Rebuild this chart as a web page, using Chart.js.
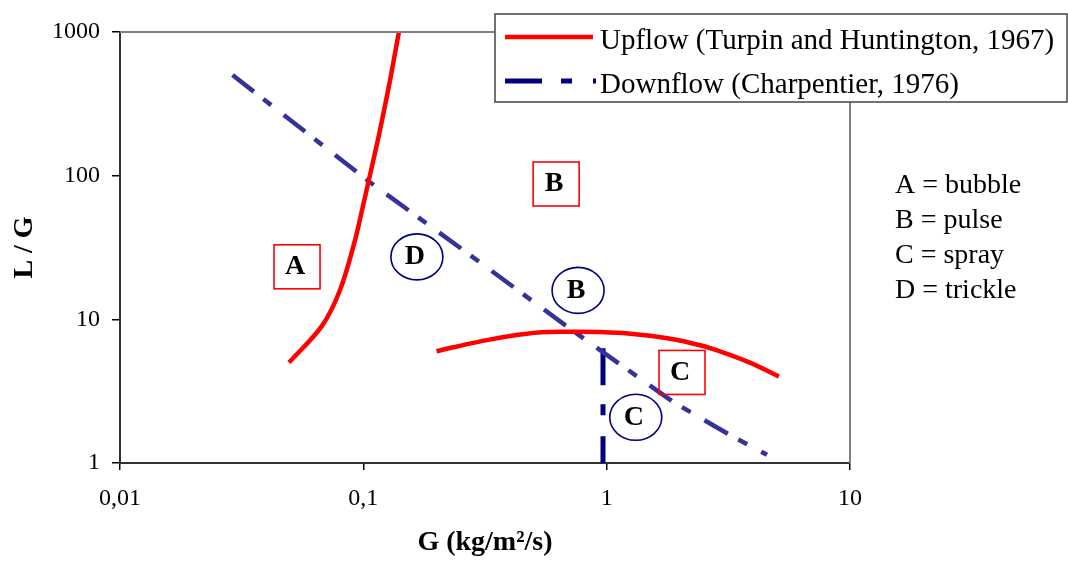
<!DOCTYPE html>
<html>
<head>
<meta charset="utf-8">
<script src="https://cdn.jsdelivr.net/npm/chart.js@4.4.1/dist/chart.umd.min.js"></script>
<style>
  body { margin: 0; background: #fff; }
</style>
</head>
<body>
<canvas id="chart" width="1068" height="566"></canvas>
<script>
// Upflow boundary (Turpin and Huntington, 1967) - two branches
const upflowLowG = [0.0495, 0.0676, 0.0802, 0.0925, 0.0988, 0.1065, 0.1171, 0.1288, 0.14];
const upflowLowLG = [5, 9, 16, 35.7, 57.7, 101, 208, 463, 1000];
const upflowHighG = [0.2, 0.3, 0.47, 0.69, 0.94, 1.28, 1.8, 2.42, 3.0, 3.88, 5.1];
const upflowHighLG = [6.0, 7.0, 7.95, 8.2, 8.15, 7.9, 7.35, 6.6, 5.9, 5.0, 4.0];

// Downflow boundary (Charpentier, 1976)
const downflowG = [0.029, 0.1065, 0.2745, 0.721, 0.94, 1.875, 3.31, 4.56];
const downflowLG = [502, 90, 28, 8.4, 6.1, 2.66, 1.52, 1.14];
const downflowVertG = [0.966, 0.966];
const downflowVertLG = [6.3, 1];

const xTickValues = [0.01, 0.1, 1, 10];
const xTickLabels = ['0,01', '0,1', '1', '10'];
const yTickValues = [1, 10, 100, 1000];
const yTickLabels = ['1', '10', '100', '1000'];

// regime labels in the plot (red box = upflow, blue circle = downflow)
const regionLetters = ['A', 'B', 'C', 'D', 'B', 'C'];
const regionG = [0.0534, 0.62, 2.04, 0.166, 0.763, 1.317];
const regionLG = [23.2, 87.5, 4.27, 27.2, 15.9, 2.08];
const regionShapes = ['box', 'box', 'box', 'circle', 'circle', 'circle'];

const regimeNotes = ['A = bubble', 'B = pulse', 'C = spray', 'D = trickle'];
const legendLabels = ['Upflow (Turpin and Huntington, 1967)', 'Downflow (Charpentier, 1976)'];

const toPoints = (xs, ys) => xs.map((x, i) => ({ x: x, y: ys[i] }));

const SERIF = '"Liberation Serif", "Times New Roman", serif';
const RED = '#ff0000';
const NAVY = '#000080';

const extras = {
  id: 'extras',
  afterDatasetsDraw(chart) {
    const ctx = chart.ctx;
    const area = chart.chartArea;
    const xs = chart.scales.x;
    const ys = chart.scales.y;
    ctx.save();

    // grey frame on top and right
    ctx.strokeStyle = '#808080';
    ctx.lineWidth = 2;
    ctx.beginPath();
    ctx.moveTo(area.left, area.top);
    ctx.lineTo(area.right, area.top);
    ctx.lineTo(area.right, area.bottom);
    ctx.stroke();

    // regime markers
    ctx.font = 'bold 28px ' + SERIF;
    ctx.textAlign = 'center';
    ctx.textBaseline = 'middle';
    regionLetters.forEach((letter, i) => {
      const px = xs.getPixelForValue(regionG[i]);
      const py = ys.getPixelForValue(regionLG[i]);
      ctx.lineWidth = 1.6;
      if (regionShapes[i] === 'box') {
        ctx.strokeStyle = RED;
        ctx.strokeRect(px - 23, py - 22, 46, 44);
      } else {
        ctx.strokeStyle = NAVY;
        ctx.beginPath();
        ctx.ellipse(px, py, 26, 23, 0, 0, Math.PI * 2);
        ctx.stroke();
      }
      ctx.fillStyle = '#000';
      ctx.fillText(letter, px - 2, py);
    });

    // regime key on the right
    ctx.font = '28px ' + SERIF;
    ctx.textAlign = 'left';
    ctx.textBaseline = 'alphabetic';
    regimeNotes.forEach((t, i) => {
      ctx.fillText(t, area.right + 45, 193 + i * 35);
    });

    // legend box
    const lx = 495, ly = 14, lw = 572, lh = 88;
    ctx.fillStyle = '#fff';
    ctx.fillRect(lx, ly, lw, lh);
    ctx.strokeStyle = '#444';
    ctx.lineWidth = 1.5;
    ctx.strokeRect(lx, ly, lw, lh);

    const up = chart.data.datasets[0];
    const down = chart.data.datasets[3];
    ctx.strokeStyle = up.borderColor;
    ctx.lineWidth = up.borderWidth;
    ctx.beginPath();
    ctx.moveTo(505, 37);
    ctx.lineTo(593, 37);
    ctx.stroke();

    ctx.strokeStyle = down.borderColor;
    ctx.lineWidth = down.borderWidth;
    ctx.setLineDash(down.borderDash);
    ctx.beginPath();
    ctx.moveTo(505, 81);
    ctx.lineTo(596, 81);
    ctx.stroke();
    ctx.setLineDash([]);

    ctx.fillStyle = '#000';
    ctx.font = '29px ' + SERIF;
    ctx.fillText(legendLabels[0], 600, 49);
    ctx.fillText(legendLabels[1], 600, 93);
    ctx.restore();
  }
};

new Chart(document.getElementById('chart'), {
  type: 'line',
  data: {
    datasets: [
      {
        label: legendLabels[0],
        data: toPoints(upflowLowG, upflowLowLG),
        borderColor: RED,
        borderWidth: 4.5,
        tension: 0.35,
        pointRadius: 0,
        fill: false
      },
      {
        label: legendLabels[0],
        data: toPoints(upflowHighG, upflowHighLG),
        borderColor: RED,
        borderWidth: 4.5,
        tension: 0.4,
        pointRadius: 0,
        fill: false
      },
      {
        label: legendLabels[1],
        data: toPoints(downflowG, downflowLG),
        borderColor: '#333399',
        borderWidth: 4.5,
        borderDash: [27, 12, 10, 16],
        pointRadius: 0,
        fill: false
      },
      {
        label: legendLabels[1],
        data: toPoints(downflowVertG, downflowVertLG),
        borderColor: NAVY,
        borderWidth: 5,
        borderDash: [37, 19, 11, 21],
        pointRadius: 0,
        fill: false
      }
    ]
  },
  options: {
    responsive: false,
    animation: false,
    devicePixelRatio: 1,
    layout: { padding: { top: 32, right: 218, left: 0, bottom: 0 } },
    plugins: { legend: { display: false }, tooltip: { enabled: false } },
    scales: {
      x: {
        type: 'logarithmic',
        min: 0.01,
        max: 10,
        afterBuildTicks: (s) => { s.ticks = xTickValues.map(v => ({ value: v })); },
        afterFit: (s) => { s.height = 103; },
        ticks: {
          color: '#000',
          font: { family: SERIF, size: 24 },
          padding: 14,
          maxRotation: 0,
          autoSkip: false,
          callback: (v) => xTickLabels[xTickValues.indexOf(v)]
        },
        grid: { drawOnChartArea: false, drawTicks: true, tickLength: 7, color: '#000', lineWidth: 1.5 },
        border: { display: true, color: '#333', width: 2 },
        title: {
          display: true,
          text: 'G (kg/m²/s)',
          color: '#000',
          font: { family: SERIF, size: 28, weight: 'bold' },
          padding: { top: 0, bottom: 6 }
        }
      },
      y: {
        type: 'logarithmic',
        min: 1,
        max: 1000,
        afterBuildTicks: (s) => { s.ticks = yTickValues.map(v => ({ value: v })); },
        afterFit: (s) => { s.width = 120; },
        ticks: {
          color: '#000',
          font: { family: SERIF, size: 24 },
          padding: 12,
          autoSkip: false,
          callback: (v) => yTickLabels[yTickValues.indexOf(v)]
        },
        grid: { drawOnChartArea: false, drawTicks: true, tickLength: 8, color: '#000', lineWidth: 1.5 },
        border: { display: true, color: '#333', width: 2 },
        title: {
          display: true,
          text: 'L / G',
          color: '#000',
          font: { family: SERIF, size: 28, weight: 'bold' },
          padding: { top: 8, bottom: 0 }
        }
      }
    }
  },
  plugins: [extras]
});
</script>
</body>
</html>
